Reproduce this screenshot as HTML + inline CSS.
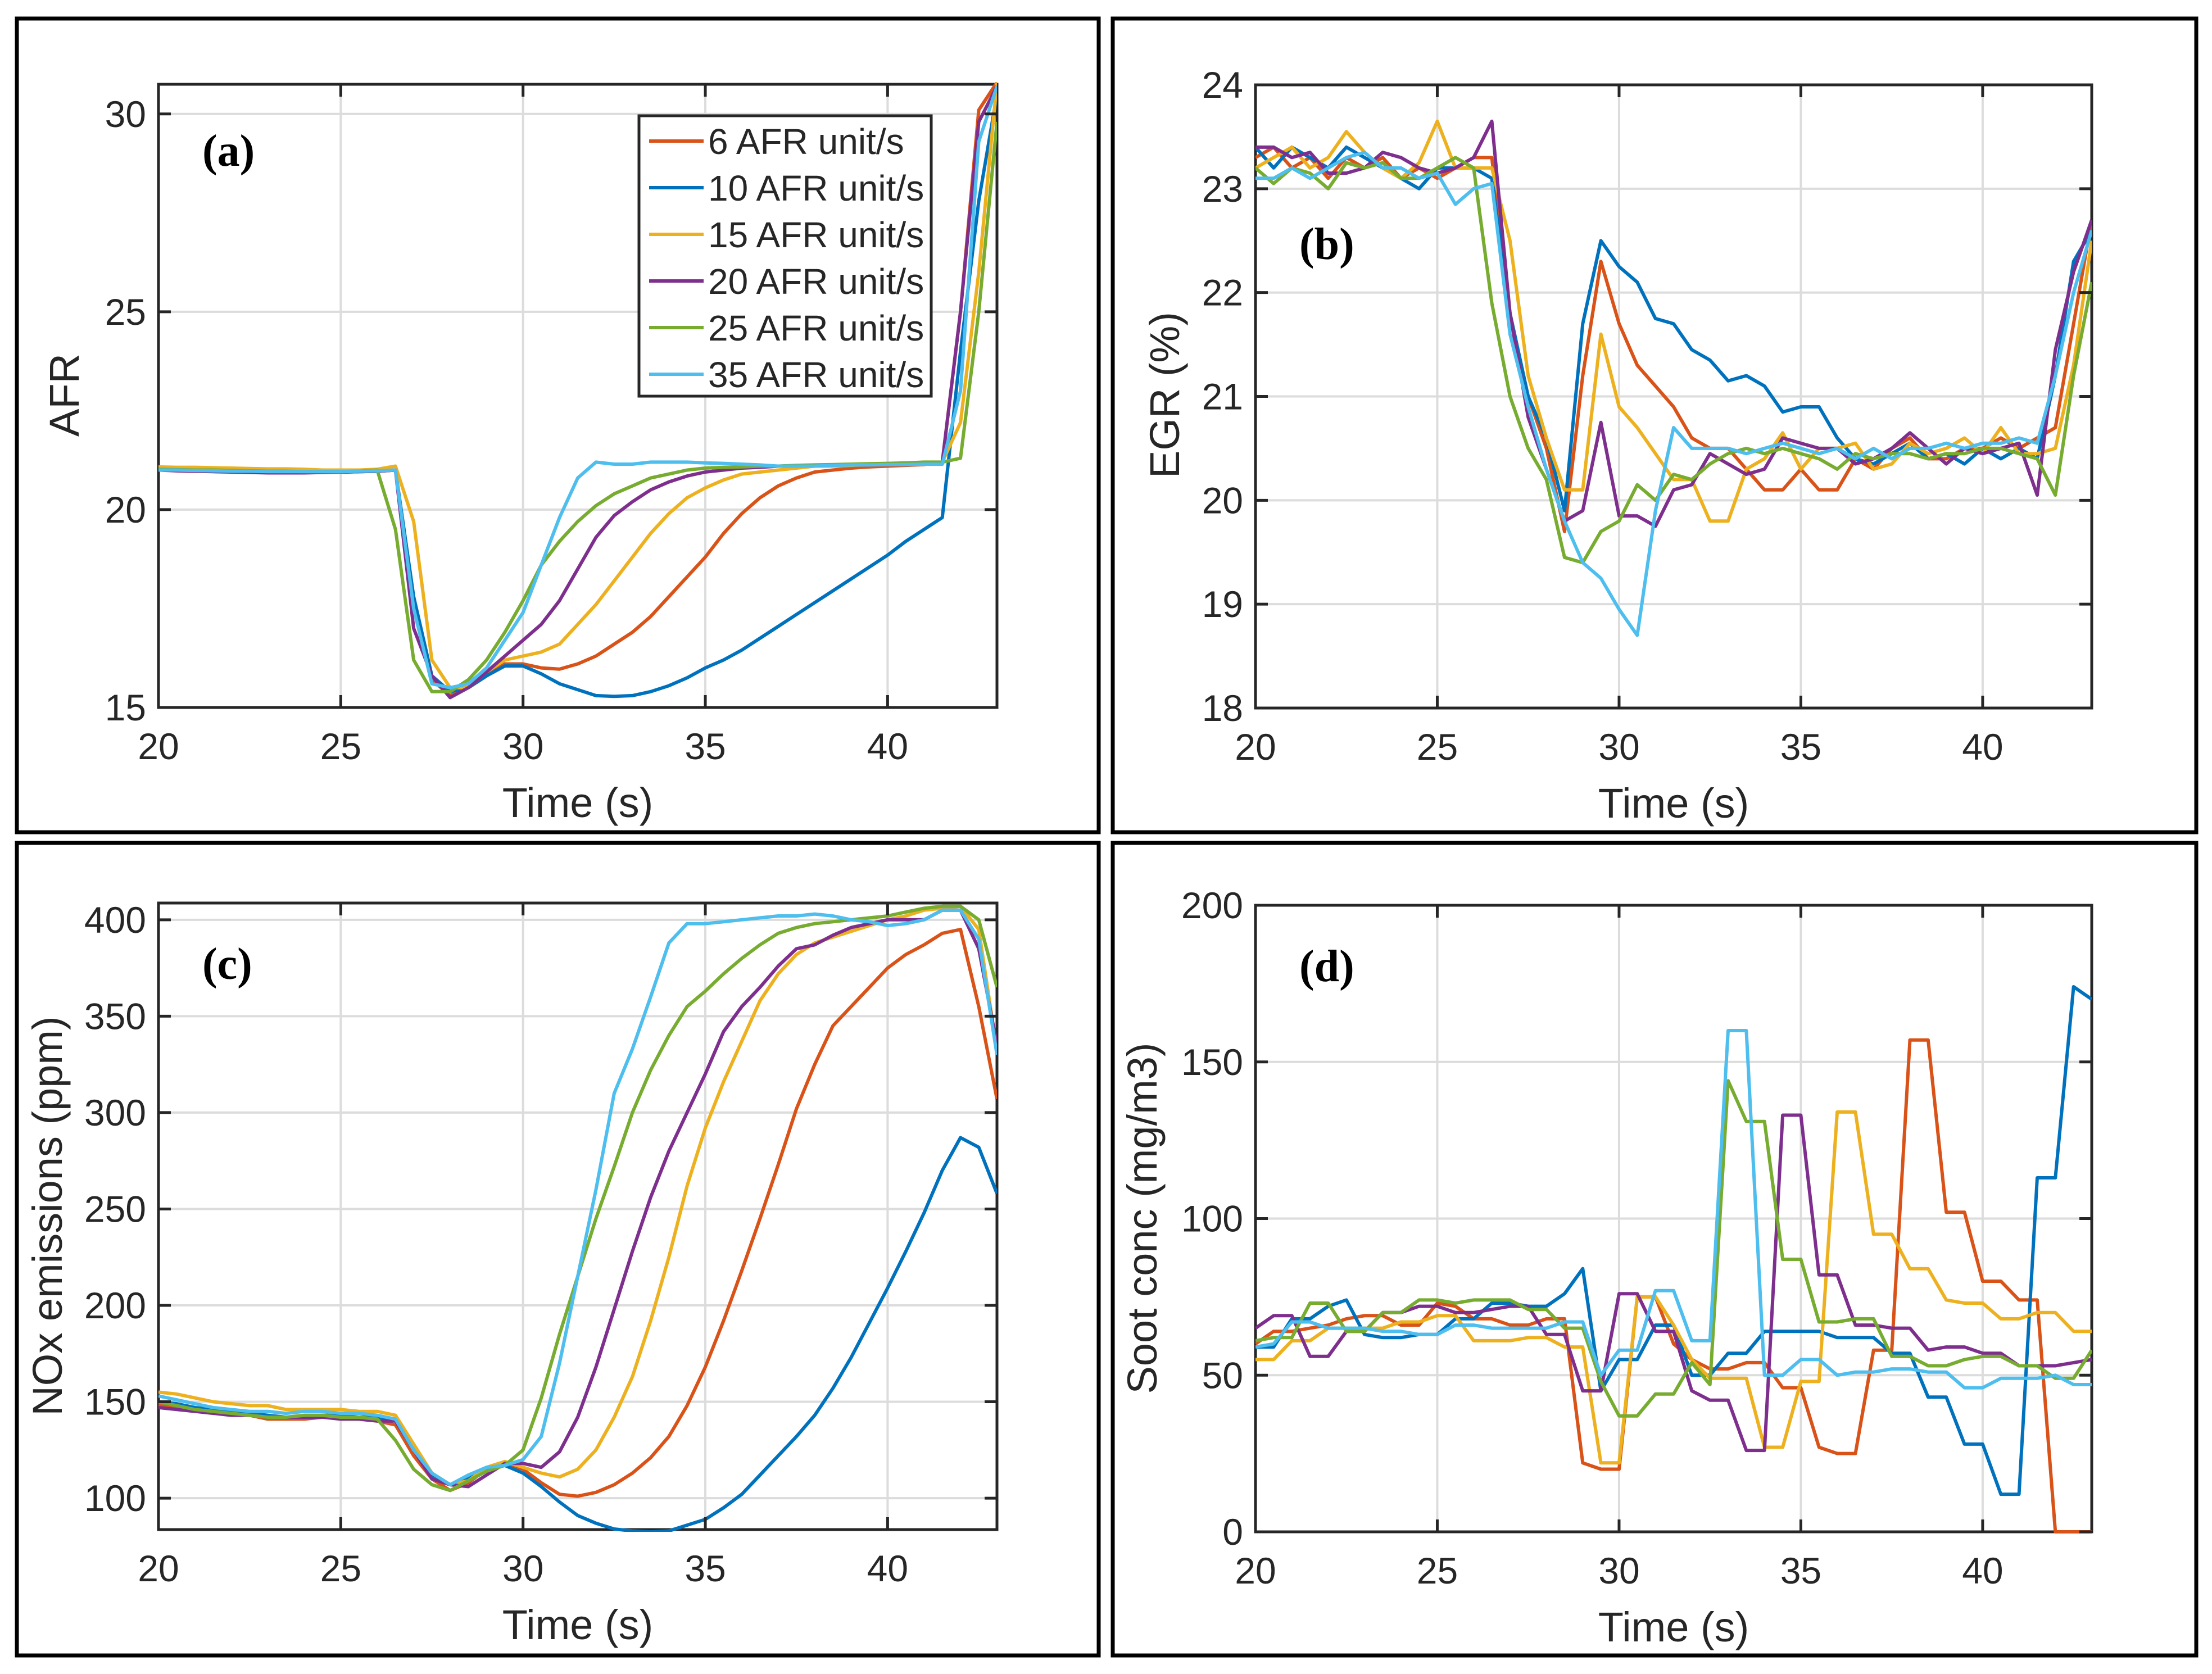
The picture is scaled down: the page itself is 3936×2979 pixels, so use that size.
<!DOCTYPE html>
<html><head><meta charset="utf-8">
<style>
html,body{margin:0;padding:0;background:#fff;}
svg{display:block;}
text{font-family:"Liberation Sans",Arial,sans-serif;fill:#262626;}
</style></head>
<body>
<svg id="fig" width="3936" height="2979" viewBox="0 0 3936 2979" xmlns="http://www.w3.org/2000/svg"></svg>
<script>
const times=[20,20.5,21,21.5,22,22.5,23,23.5,24,24.5,25,25.5,26,26.5,27,27.5,28,28.5,29,29.5,30,30.5,31,31.5,32,32.5,33,33.5,34,34.5,35,35.5,36,36.5,37,37.5,38,38.5,39,39.5,40,40.5,41,41.5,42,42.5,43];
const seriesNames=["6 AFR unit/s","10 AFR unit/s","15 AFR unit/s","20 AFR unit/s","25 AFR unit/s","35 AFR unit/s"];
const xTicks=[20,25,30,35,40];
const afrTicks=[15,20,25,30];
const egrTicks=[18,19,20,21,22,23,24];
const noxTicks=[100,150,200,250,300,350,400];
const sootTicks=[0,50,100,150,200];
// AFR
const afr6=[21.05,21.05,21.0,21.0,21.0,20.98,20.97,20.97,20.96,20.95,20.95,20.96,20.97,21.0,17.5,15.7,15.3,15.5,15.8,16.1,16.1,16.0,15.97,16.1,16.3,16.6,16.9,17.3,17.8,18.3,18.8,19.4,19.9,20.3,20.6,20.8,20.95,21.0,21.05,21.08,21.1,21.12,21.14,21.2,25,30.1,30.8];
const afr10=[21.0,21.0,20.98,20.98,20.97,20.97,20.96,20.96,20.95,20.95,20.95,20.96,20.97,21.0,17.8,15.8,15.4,15.5,15.8,16.05,16.05,15.85,15.6,15.45,15.3,15.28,15.3,15.4,15.55,15.75,16.0,16.2,16.45,16.75,17.05,17.35,17.65,17.95,18.25,18.55,18.85,19.2,19.5,19.8,24,27.8,30.5];
const afr15=[21.08,21.07,21.07,21.06,21.05,21.04,21.03,21.03,21.02,21.0,21.0,21.0,21.02,21.1,19.7,16.2,15.5,15.5,15.9,16.2,16.3,16.4,16.6,17.1,17.6,18.2,18.8,19.4,19.9,20.3,20.55,20.75,20.9,20.95,21.0,21.05,21.1,21.1,21.12,21.14,21.15,21.17,21.18,21.2,22.2,26,30.8];
const afr20=[21.0,20.98,20.97,20.96,20.95,20.94,20.93,20.93,20.93,20.94,20.95,20.96,20.97,21.0,17.0,15.8,15.25,15.5,15.9,16.3,16.7,17.1,17.7,18.5,19.3,19.85,20.2,20.5,20.7,20.85,20.95,21.0,21.05,21.07,21.1,21.1,21.12,21.13,21.14,21.15,21.16,21.17,21.18,21.2,25,29.8,30.7];
const afr25=[21.02,21.01,21.0,21.0,20.99,20.98,20.97,20.97,20.96,20.96,20.96,20.97,21.0,19.5,16.2,15.4,15.4,15.7,16.2,16.9,17.7,18.6,19.2,19.7,20.1,20.4,20.6,20.8,20.9,21.0,21.05,21.07,21.08,21.1,21.1,21.12,21.13,21.14,21.15,21.16,21.17,21.18,21.2,21.2,21.3,25,29.8];
const afr35=[21.0,21.0,20.99,20.98,20.97,20.97,20.96,20.96,20.96,20.96,20.96,20.97,20.98,21.0,17.5,15.6,15.5,15.6,16.0,16.7,17.4,18.6,19.8,20.8,21.2,21.15,21.15,21.2,21.2,21.2,21.18,21.17,21.15,21.13,21.1,21.1,21.1,21.12,21.13,21.13,21.14,21.14,21.15,21.15,23,29.3,30.7];
// EGR
const egr6=[23.3,23.4,23.2,23.3,23.1,23.3,23.2,23.3,23.1,23.2,23.1,23.2,23.3,23.3,21.8,21.0,20.5,19.7,21.2,22.3,21.7,21.3,21.1,20.9,20.6,20.5,20.5,20.3,20.1,20.1,20.3,20.1,20.1,20.4,20.3,20.5,20.6,20.4,20.4,20.5,20.5,20.6,20.5,20.6,20.7,21.7,22.7];
const egr10=[23.4,23.2,23.4,23.3,23.2,23.4,23.3,23.2,23.1,23.0,23.2,23.2,23.2,23.1,21.8,21.0,20.6,19.9,21.7,22.5,22.25,22.1,21.75,21.7,21.45,21.35,21.15,21.2,21.1,20.85,20.9,20.9,20.6,20.4,20.35,20.45,20.55,20.4,20.45,20.35,20.5,20.4,20.5,20.4,21.2,22.3,22.6];
const egr15=[23.2,23.3,23.4,23.2,23.3,23.55,23.35,23.2,23.1,23.25,23.65,23.2,23.2,23.2,22.5,21.2,20.6,20.1,20.1,21.6,20.9,20.7,20.45,20.2,20.2,19.8,19.8,20.3,20.4,20.65,20.3,20.5,20.5,20.55,20.3,20.35,20.55,20.45,20.5,20.6,20.45,20.7,20.45,20.45,20.5,21.3,22.5];
const egr20=[23.4,23.4,23.3,23.35,23.15,23.15,23.2,23.35,23.3,23.2,23.15,23.2,23.3,23.65,21.8,20.8,20.3,19.8,19.9,20.75,19.85,19.85,19.75,20.1,20.15,20.45,20.35,20.25,20.3,20.6,20.55,20.5,20.5,20.35,20.4,20.5,20.65,20.5,20.35,20.5,20.45,20.5,20.55,20.05,21.45,22.2,22.7];
const egr25=[23.2,23.05,23.2,23.15,23.0,23.25,23.2,23.25,23.1,23.1,23.2,23.3,23.2,21.9,21.0,20.5,20.2,19.45,19.4,19.7,19.8,20.15,20.0,20.25,20.2,20.35,20.45,20.5,20.45,20.5,20.45,20.4,20.3,20.45,20.4,20.45,20.45,20.4,20.45,20.45,20.5,20.5,20.45,20.4,20.05,21.2,22.1];
const egr35=[23.1,23.1,23.2,23.1,23.2,23.3,23.35,23.2,23.2,23.1,23.15,22.85,23.0,23.05,21.6,20.9,20.3,19.8,19.4,19.25,18.95,18.7,19.9,20.7,20.5,20.5,20.5,20.45,20.5,20.55,20.5,20.45,20.5,20.4,20.5,20.4,20.5,20.5,20.55,20.5,20.55,20.55,20.6,20.55,21.2,22.0,22.6];
// NOx
const nox6=[148,147,146,145,144,143,141,141,141,142,142,141,140,138,122,110,104,108,115,118,115,108,102,101,103,107,113,121,132,148,168,192,218,245,273,302,325,345,355,365,375,382,387,393,395,355,307];
const nox10=[150,149,147,146,145,144,143,142,142,143,143,142,142,141,125,112,107,110,115,117,113,106,98,91,87,84,83,82.5,83,86,89,95,102,112,122,132,143,157,173,191,209,228,248,270,287,282,258];
const nox15=[155,154,152,150,149,148,148,146,146,146,146,145,145,143,128,113,107,109,116,119,116,113,111,115,125,142,163,192,225,262,292,316,337,358,372,382,388,391,394,397,400,402,405,406,407,395,332];
const nox20=[147,146,145,144,143,143,142,142,142,142,141,141,140,140,125,110,107,106,112,118,118,116,124,142,168,198,228,256,280,300,320,342,355,365,376,385,387,392,396,398,400,400,400,405,405,385,335];
const nox25=[150,148,146,145,144,143,142,142,143,143,142,142,141,130,115,107,104,109,114,117,125,152,185,215,245,272,300,322,340,355,363,372,380,387,393,396,398,399,400,401,402,404,406,407,407,400,365];
const nox35=[153,151,149,147,146,145,145,144,145,145,144,144,143,141,125,113,107,112,116,117,120,132,170,215,260,310,333,360,388,398,398,399,400,401,402,402,403,402,400,399,397,398,400,405,405,390,330];
// Soot
const soot6=[60,64,64,65,66,68,69,69,66,66,73,72,68,68,66,66,68,68,22,20,20,75,75,60,55,52,52,54,54,46,46,27,25,25,58,58,157,157,102,102,80,80,74,74,0,0,0];
const soot10=[59,59,68,68,72,74,63,62,62,63,63,68,68,73,73,72,72,76,84,45,55,55,66,66,50,50,57,57,64,64,64,64,62,62,62,57,57,43,43,28,28,12,12,113,113,174,170];
const soot15=[55,55,61,61,65,65,65,65,67,67,69,69,61,61,61,62,62,59,59,22,22,75,75,66,55,49,49,49,27,27,48,48,134,134,95,95,84,84,74,73,73,68,68,70,70,64,64];
const soot20=[65,69,69,56,56,64,64,70,70,72,72,70,70,71,72,72,63,63,45,45,76,76,64,64,45,42,42,26,26,133,133,82,82,66,66,65,65,58,59,59,57,57,53,53,53,54,55];
const soot25=[61,62,62,73,73,64,64,70,70,74,74,73,74,74,74,71,71,65,65,48,37,37,44,44,54,47,144,131,131,87,87,67,67,68,68,56,56,53,53,55,56,56,53,53,49,49,58];
const soot35=[59,60,67,67,65,65,65,64,64,63,63,66,66,65,65,65,65,67,67,50,58,58,77,77,61,61,160,160,50,50,55,55,50,51,51,52,52,51,51,46,46,49,49,49,50,47,47];

const colors=["#D95319","#0072BD","#EDB120","#7E2F8E","#77AC30","#4DBEEE"];
const NS="http://www.w3.org/2000/svg";
const svg=document.getElementById('fig');
function mk(tag,attrs,parent){const e=document.createElementNS(NS,tag);for(const k in attrs)e.setAttribute(k,attrs[k]);(parent||svg).appendChild(e);return e;}

function panel(o){
  const g=mk('g',{});
  
  
  const fr=mk('rect',{x:o.fx,y:o.fy,width:o.fw,height:o.fh,fill:'#fff',stroke:'#000','stroke-width':7},g);
  
  
  const X=v=>o.x0+(v-20)/(43-20)*(o.x1-o.x0);
  const Y=v=>o.y1-(v-o.ymin)/(o.ymax-o.ymin)*(o.y1-o.y0);
  xTicks.forEach(t=>{const l=mk('line',{x1:X(t),x2:X(t),y1:o.y0,y2:o.y1,stroke:'#dcdcdc','stroke-width':4},g);
    
    });
  o.yt.forEach(t=>{const l=mk('line',{x1:o.x0,x2:o.x1,y1:Y(t),y2:Y(t),stroke:'#dcdcdc','stroke-width':4},g);
    
    });
  const bx=mk('rect',{x:o.x0,y:o.y0,width:o.x1-o.x0,height:o.y1-o.y0,fill:'none',stroke:'#262626','stroke-width':5},g);
  
  
  const clipId='clip'+o.name;
  const cp=mk('clipPath',{id:clipId},g);mk('rect',{x:o.x0,y:o.y0-4,width:o.x1-o.x0,height:o.y1-o.y0+8},cp);
  o.series.forEach((s,i)=>{
    const d=s.map((v,j)=>(j?'L':'M')+X(times[j]).toFixed(1)+' '+Y(v).toFixed(1)).join(' ');
    const p=mk('path',{d:d,fill:'none',stroke:colors[i],'stroke-width':6,'stroke-linejoin':'round','clip-path':'url(#'+clipId+')'},g);
    
    
  });
  xTicks.forEach(t=>{
    mk('line',{x1:X(t),x2:X(t),y1:o.y1,y2:o.y1-22,stroke:'#262626','stroke-width':5},g);
    mk('line',{x1:X(t),x2:X(t),y1:o.y0,y2:o.y0+22,stroke:'#262626','stroke-width':5},g);
    const tx=mk('text',{x:X(t),y:o.y1+92,'font-size':66,'text-anchor':'middle'},g);tx.textContent=t;
    
    
  });
  o.yt.forEach(t=>{
    mk('line',{x1:o.x0,x2:o.x0+22,y1:Y(t),y2:Y(t),stroke:'#262626','stroke-width':5},g);
    mk('line',{x1:o.x1,x2:o.x1-22,y1:Y(t),y2:Y(t),stroke:'#262626','stroke-width':5},g);
    const tx=mk('text',{x:o.x0-22,y:Y(t)+23,'font-size':66,'text-anchor':'end'},g);tx.textContent=t;
    
    
  });
  const xl=mk('text',{x:(o.x0+o.x1)/2,y:o.y1+195,'font-size':74,'text-anchor':'middle'},g);xl.textContent='Time (s)';
  
  
  const yl=mk('text',{x:0,y:0,'font-size':74,'text-anchor':'middle',transform:`translate(${o.ylx},${o.yly}) rotate(-90)`},g);yl.textContent=o.ylabel;
  
  
  const pl=mk('text',{x:o.x0+78,y:o.y0+o.ply,'font-size':80,'font-weight':'bold',style:'font-family:"Liberation Serif",serif;fill:#000'},g);pl.textContent=o.letter;
  
  
  return {g,X,Y};
}

panel({name:'panel-a-afr',fx:30,fy:33,fw:1925,fh:1448,x0:282,x1:1774,y0:150,y1:1259,ymin:15,ymax:30.75,yt:afrTicks,ylabel:'AFR',ylx:140,yly:703,letter:'(a)',ply:145,series:[afr6,afr10,afr15,afr20,afr25,afr35]});
panel({name:'panel-b-egr',fx:1980,fy:33,fw:1928,fh:1448,x0:2234,x1:3722,y0:151,y1:1260,ymin:18,ymax:24,yt:egrTicks,ylabel:'EGR (%)',ylx:2098,yly:703,letter:'(b)',ply:310,series:[egr6,egr10,egr15,egr20,egr25,egr35]});
panel({name:'panel-c-nox',fx:30,fy:1500,fw:1925,fh:1446,x0:282,x1:1774,y0:1607,y1:2722,ymin:83.7,ymax:408.7,yt:noxTicks,ylabel:'NOx emissions (ppm)',ylx:110,yly:2164,letter:'(c)',ply:135,series:[nox6,nox10,nox15,nox20,nox25,nox35]});
panel({name:'panel-d-soot',fx:1980,fy:1500,fw:1928,fh:1446,x0:2234,x1:3722,y0:1611,y1:2726,ymin:0,ymax:200,yt:sootTicks,ylabel:'Soot conc (mg/m3)',ylx:2058,yly:2168,letter:'(d)',ply:135,series:[soot6,soot10,soot15,soot20,soot25,soot35]});

const lg=mk('g',{});


mk('rect',{x:1137,y:206,width:520,height:499,fill:'#fff',stroke:'#262626','stroke-width':5},lg);
seriesNames.forEach((n,i)=>{
  const cy=251+i*83;
  const e=mk('g',{},lg);
  
  
  mk('line',{x1:1155,x2:1252,y1:cy,y2:cy,stroke:colors[i],'stroke-width':6},e);
  const t=mk('text',{x:1260,y:cy+23,'font-size':64},e);t.textContent=n;
});
</script>
</body></html>
